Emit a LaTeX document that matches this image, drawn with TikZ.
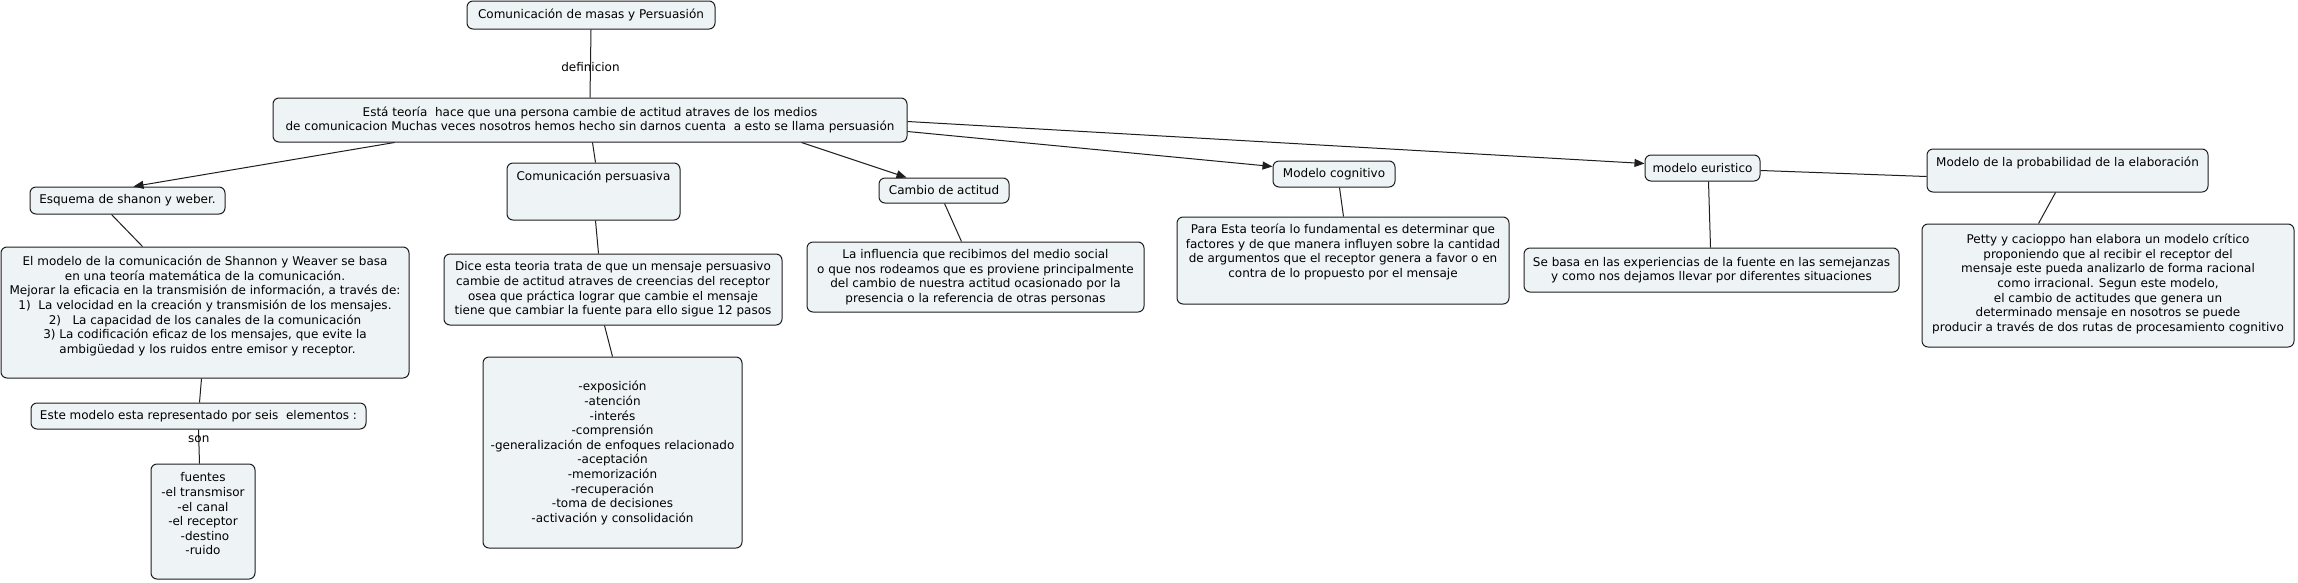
\documentclass[tikz,border=0pt]{standalone}
\usepackage{fontspec}
\setmainfont{DejaVu Sans}
\usetikzlibrary{arrows.meta}
\definecolor{boxfill}{RGB}{238,243,245}
\definecolor{edge}{RGB}{30,30,30}
\tikzset{
 mapbox/.style={draw=edge, fill=boxfill, rounded corners=6pt, line width=1pt, inner sep=0pt},
 maptext/.style={align=center, inner sep=0pt, font=\fontsize{12}{14.6}\selectfont, text=black},
 link/.style={draw=edge, line width=1pt},
 arrowlink/.style={link, -{Triangle[length=10pt,width=8pt]}},
 linklabel/.style={font=\fontsize{12}{14.6}\selectfont, inner sep=0pt, text=black},
}
% name, left, top, right, bottom, text centre y, text
\newcommand\cmbox[7]{%
 \node[mapbox, minimum width={(#4-#2)*1pt}, minimum height={(#5-#3)*1pt}] (#1) at ({(#2+#4)/2},{(#3+#5)/2}) {};
 \node[maptext] (#1t) at ({(#2+#4)/2},#6) {#7};
}
\begin{document}
\begin{tikzpicture}[x=1pt,y=-1pt]
\fill[white] (0,0) rectangle (2298,582);
\useasboundingbox (0,0) rectangle (2298,582);

\cmbox{top}{467}{1}{715}{29}{15}{Comunicación de masas y Persuasión}
\cmbox{main}{273}{98}{907}{142}{120}{Está teoría\ \ hace que una persona cambie de actitud atraves de los medios\\de comunicacion Muchas veces nosotros hemos hecho sin darnos cuenta\ \ a esto se llama persuasión}
\cmbox{esquema}{30}{187}{225}{214}{200.5}{Esquema de shanon y weber.}
\cmbox{shannon}{1}{247}{409}{378}{306}{El modelo de la comunicación de Shannon y Weaver se basa\\en una teoría matemática de la comunicación.\\Mejorar la eficacia en la transmisión de información, a través de:\\1)\ \ La velocidad en la creación y transmisión de los mensajes.\\2)\ \ \ La capacidad de los canales de la comunicación\\3) La codificación eficaz de los mensajes, que evite la\\\hspace*{5pt}ambigüedad y los ruidos entre emisor y receptor.}
\cmbox{este}{31}{403}{366}{429}{416}{Este modelo esta representado por seis\ \ elementos :}
\cmbox{fuentes}{151}{464}{255}{579}{514}{fuentes\\-el transmisor\\-el canal\\-el receptor\\\hspace*{4pt}-destino\\-ruido}
\cmbox{compers}{507}{163}{680}{220}{177}{Comunicación persuasiva}
\cmbox{dice}{444}{254}{782}{325}{289.5}{Dice esta teoria trata de que un mensaje persuasivo\\cambie de actitud atraves de creencias del receptor\\osea que práctica lograr que cambie el mensaje\\tiene que cambiar la fuente para ello sigue 12 pasos}
\cmbox{steps}{483}{357}{742}{548}{453}{-exposición\\-atención\\-interés\\-comprensión\\-generalización de enfoques relacionado\\-aceptación\\-memorización\\-recuperación\\-toma de decisiones\\-activación y consolidación}
\cmbox{cambio}{879}{178}{1009}{203}{190.5}{Cambio de actitud}
\cmbox{influ}{807}{242}{1144}{312}{277}{La influencia que recibimos del medio social\\o que nos rodeamos que es proviene principalmente\\del cambio de nuestra actitud ocasionado por la\\presencia o la referencia de otras personas}
\cmbox{modcog}{1273}{161}{1395}{187}{174}{Modelo cognitivo}
\cmbox{para}{1177}{217}{1509}{304}{252}{Para Esta teoría lo fundamental es determinar que\\factores y de que manera influyen sobre la cantidad\\de argumentos que el receptor genera a favor o en\\contra de lo propuesto por el mensaje}
\cmbox{eur}{1645}{155}{1760}{181}{168}{modelo euristico}
\cmbox{sebasa}{1524}{248}{1899}{292}{270}{Se basa en las experiencias de la fuente en las semejanzas\\y como nos dejamos llevar por diferentes situaciones}
\cmbox{prob}{1927}{149}{2208}{192}{163}{Modelo de la probabilidad de la elaboración}
\cmbox{petty}{1922}{224}{2294}{347}{284}{Petty y cacioppo han elabora un modelo crítico\\proponiendo que al recibir el receptor del\\mensaje este pueda analizarlo de forma racional\\como irracional. Segun este modelo,\\el cambio de actitudes que genera un\\determinado mensaje en nosotros se puede\\producir a través de dos rutas de procesamiento cognitivo}

\draw[link] (top.south) -- node[linklabel,pos=0.55]{definicion} (main.north);
\draw[arrowlink] ([xshift=122pt]main.south west) -- ([xshift=104pt]esquema.north west);
\draw[link] ([xshift=82pt]esquema.south west) -- ([xshift=142pt]shannon.north west);
\draw[link] ([xshift=201pt]shannon.south west) -- ([xshift=169pt]este.north west);
\draw[link] ([xshift=168pt]este.south west) -- node[linklabel,pos=0.29]{son} ([xshift=49pt]fuentes.north west);
\draw[link] ([xshift=320pt]main.south west) -- ([xshift=89pt]compers.north west);
\draw[link] ([xshift=89pt]compers.south west) -- ([xshift=155pt]dice.north west);
\draw[link] ([xshift=161pt]dice.south west) -- ([xshift=130pt]steps.north west);
\draw[arrowlink] ([xshift=529pt]main.south west) -- ([xshift=28pt]cambio.north west);
\draw[link] ([xshift=66pt]cambio.south west) -- ([xshift=155pt]influ.north west);
\draw[arrowlink] ([yshift=-34pt]main.north east) -- ([yshift=-6pt]modcog.north west);
\draw[link] ([xshift=67pt]modcog.south west) -- ([xshift=167pt]para.north west);
\draw[arrowlink] ([yshift=-24pt]main.north east) -- ([yshift=-9pt]eur.north west);
\draw[link] ([xshift=64pt]eur.south west) -- ([xshift=187pt]sebasa.north west);
\draw[link] ([yshift=-16pt]eur.north east) -- ([yshift=-28pt]prob.north west);
\draw[link] ([xshift=129pt]prob.south west) -- ([xshift=117pt]petty.north west);
\end{tikzpicture}
\end{document}
